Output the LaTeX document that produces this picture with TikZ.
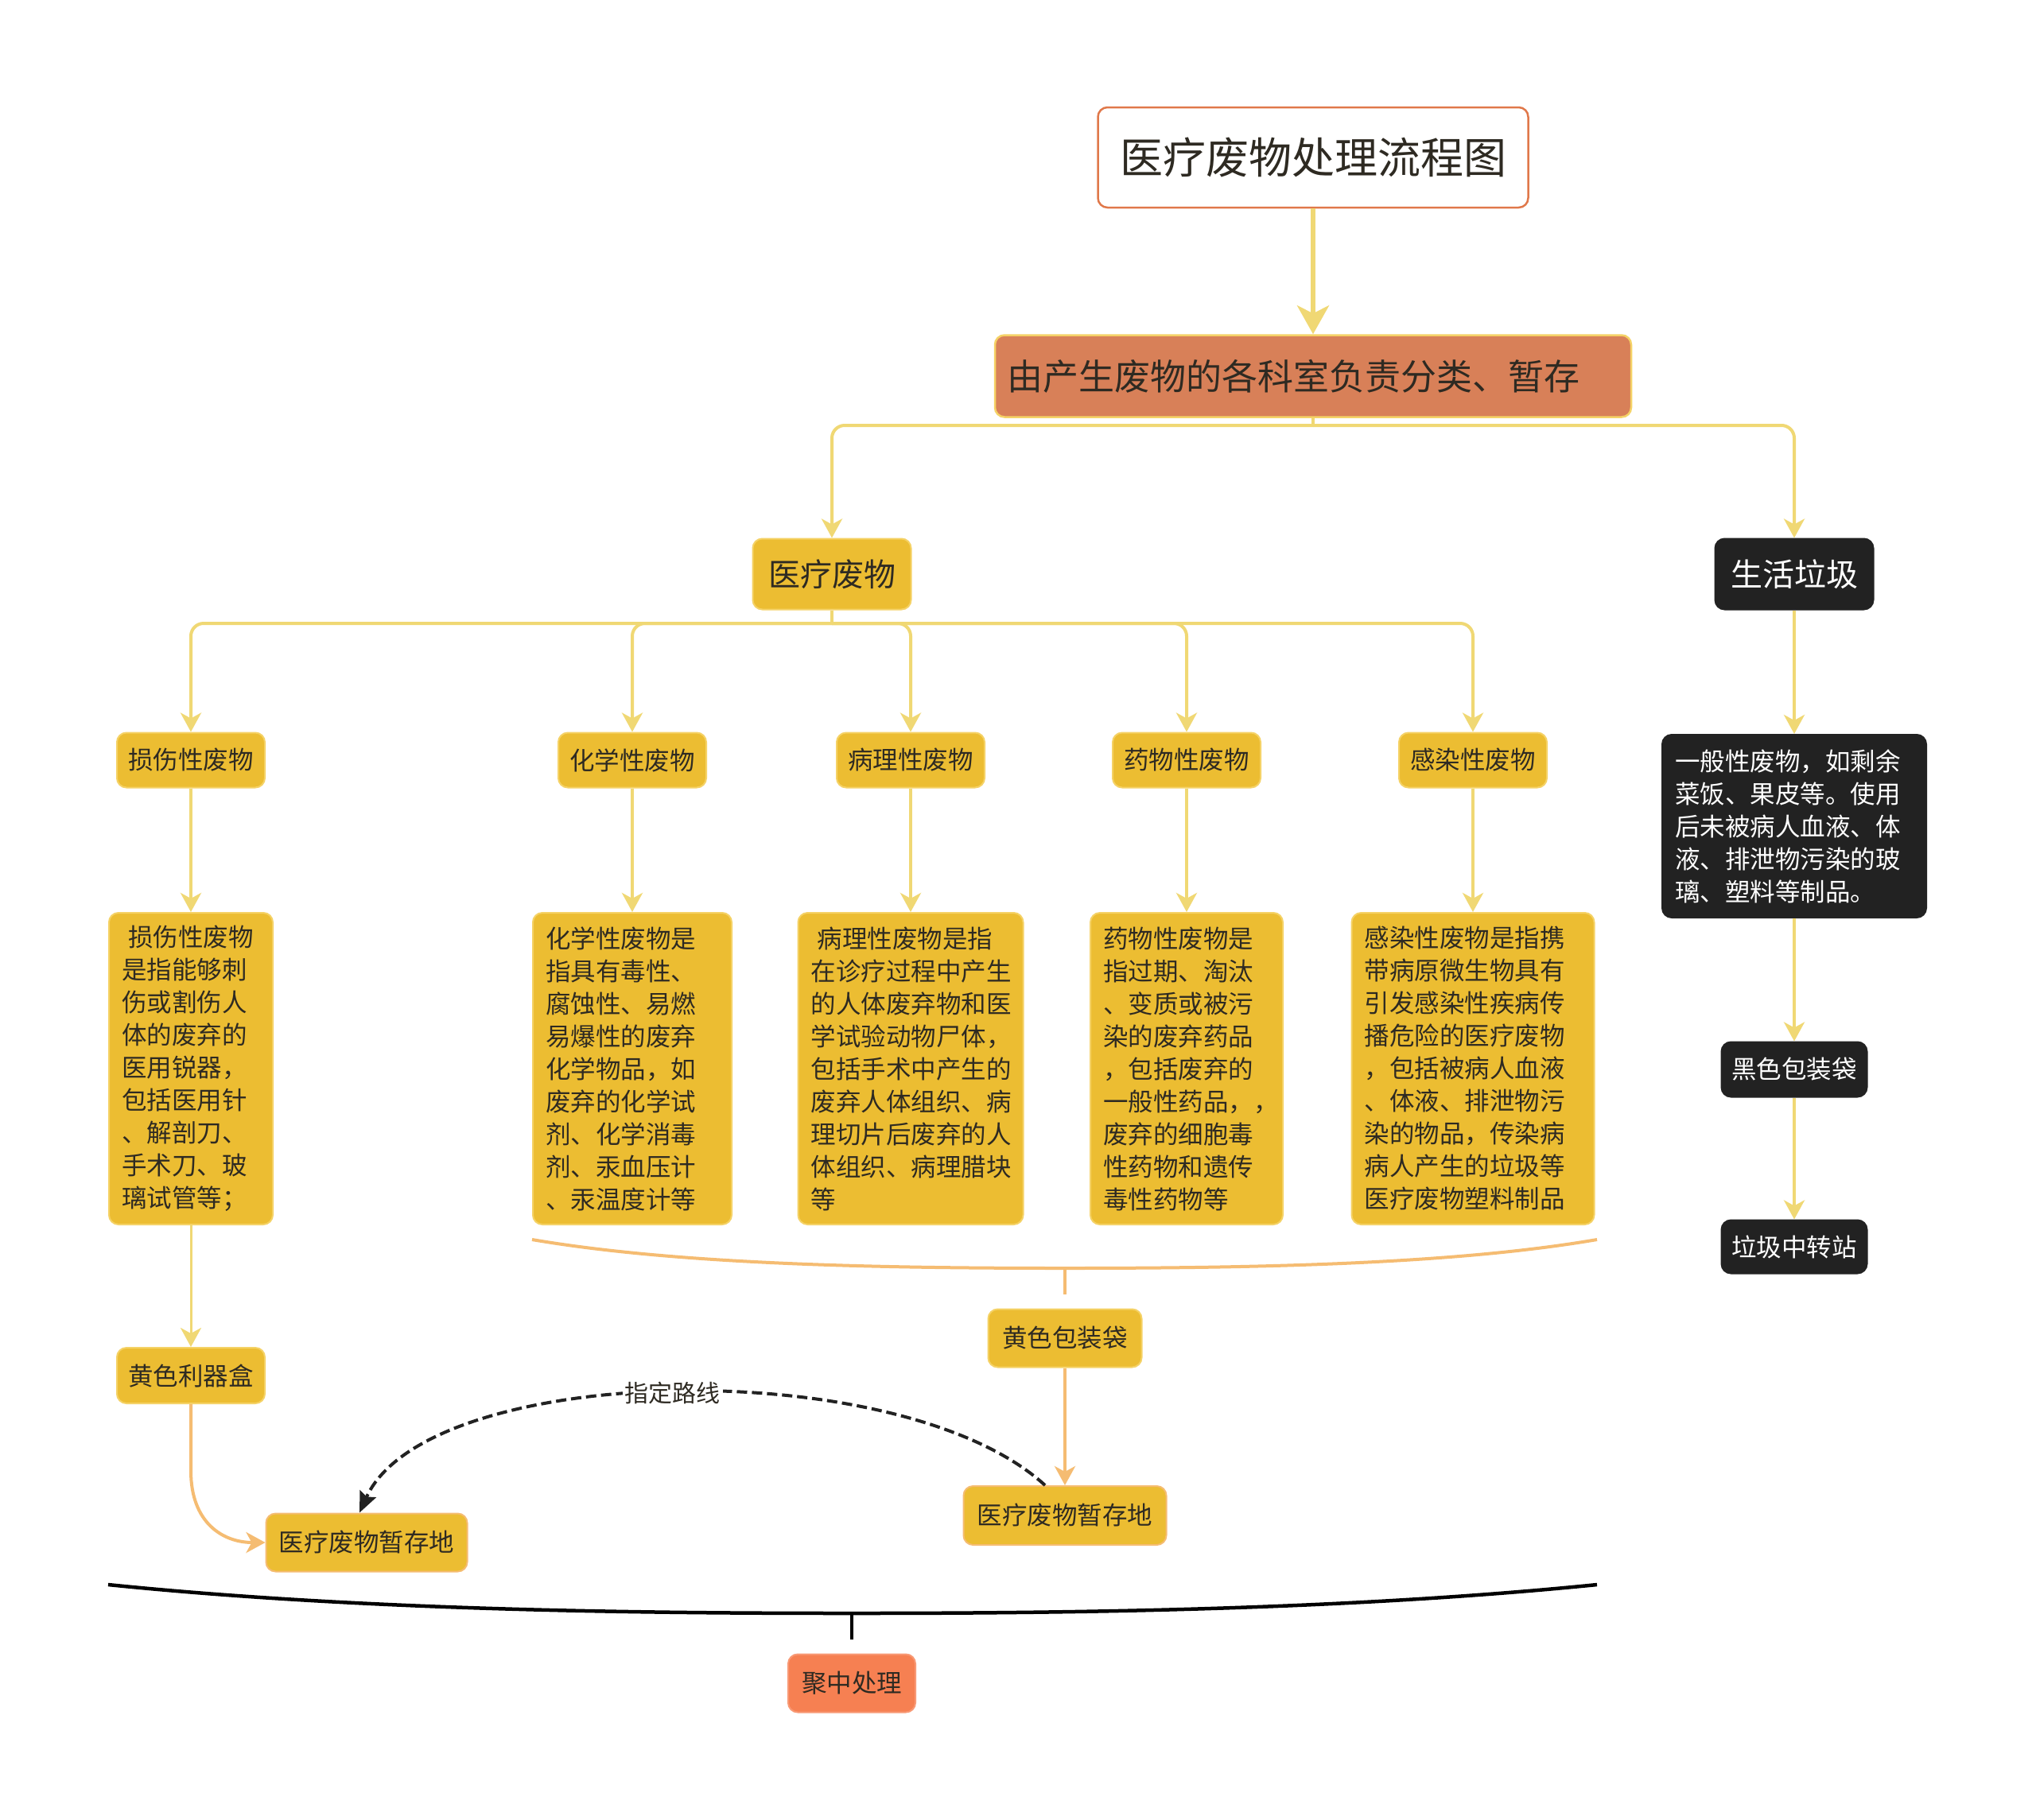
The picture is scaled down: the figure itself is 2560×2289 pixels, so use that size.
\documentclass[tikz,border=0pt]{standalone}
\usepackage{fontspec}
\setmainfont{Noto Sans CJK SC}
\usetikzlibrary{arrows.meta}
\definecolor{yboxc}{HTML}{ECBD32}
\definecolor{yborder}{HTML}{F5D266}
\definecolor{yline}{HTML}{F0D874}
\definecolor{oline}{HTML}{F5BC72}
\definecolor{oboxc}{HTML}{D88058}
\definecolor{tborder}{HTML}{E0784A}
\definecolor{coral}{HTML}{F68052}
\definecolor{darkc}{HTML}{222222}
\definecolor{txt}{HTML}{2E2A22}
\tikzset{
  ybox/.style={draw=yborder, line width=2pt, fill=yboxc, rounded corners=12pt, text=txt,
    font=\fontsize{31.5}{40}\selectfont, inner sep=0pt, align=center},
  desc/.style={ybox, align=left, inner xsep=16pt, inner ysep=0pt, font=\fontsize{31.5}{41}\selectfont,
    minimum height=392pt},
  dbox/.style={draw=darkc, line width=2pt, fill=darkc, rounded corners=12pt, text=white,
    font=\fontsize{31.5}{40}\selectfont, inner sep=0pt, align=center},
  yconn/.style={draw=yline, line width=4pt, -{Stealth[length=24pt,width=26pt,inset=7pt]}},
  yplain/.style={draw=yline, line width=4pt},
  oconn/.style={draw=oline, line width=4pt, -{Stealth[length=24pt,width=26pt,inset=7pt]}},
  oplain/.style={draw=oline, line width=4pt},
}
\begin{document}
\begin{tikzpicture}[x=1pt,y=-1pt]
\fill[white] (0,0) rectangle (2560,2289);
\useasboundingbox (0,0) rectangle (2560,2289);

% top
\node[draw=tborder, line width=2.5pt, fill=white, rounded corners=12pt, text=txt,
  minimum width=541pt, minimum height=126pt, inner sep=0pt,
  font=\fontsize{54}{60}\selectfont] (title) at (1651,198) {医疗废物处理流程图};
\node[draw=yborder, line width=2.5pt, fill=oboxc, rounded corners=12pt, text=txt,
  minimum height=103pt, inner xsep=15pt, inner ysep=0pt, text width=770pt, align=left,
  font=\fontsize{45}{50}\selectfont] (dept) at (1651,473) {由产生废物的各科室负责分类、暂存};
\node[ybox, minimum width=199pt, minimum height=89pt, font=\fontsize{40}{46}\selectfont] (med) at (1046,722) {医疗废物};
\node[dbox, minimum width=199pt, minimum height=89pt, font=\fontsize{40}{46}\selectfont] (life) at (2256,722) {生活垃圾};

% categories
\node[ybox, minimum width=186pt, minimum height=69pt] (c1) at (240,956) {损伤性废物};
\node[ybox, minimum width=186pt, minimum height=69pt] (c2) at (795,956) {化学性废物};
\node[ybox, minimum width=186pt, minimum height=69pt] (c3) at (1145,956) {病理性废物};
\node[ybox, minimum width=186pt, minimum height=69pt] (c4) at (1492,956) {药物性废物};
\node[ybox, minimum width=186pt, minimum height=69pt] (c5) at (1852,956) {感染性废物};

% descriptions
\node[desc, text width=174pt] (d1) at (240,1344) {\hspace*{8pt}损伤性废物\\是指能够刺\\伤或割伤人\\体的废弃的\\医用锐器，\\包括医用针\\、解剖刀、\\手术刀、玻\\璃试管等；};
\node[desc, text width=218pt] (d2) at (795,1344) {化学性废物是\\指具有毒性、\\腐蚀性、易燃\\易爆性的废弃\\化学物品，如\\废弃的化学试\\剂、化学消毒\\剂、汞血压计\\、汞温度计等};
\node[desc, text width=251pt] (d3) at (1145,1344) {\hspace*{8pt}病理性废物是指\\在诊疗过程中产生\\的人体废弃物和医\\学试验动物尸体，\\包括手术中产生的\\废弃人体组织、病\\理切片后废弃的人\\体组织、病理腊块\\等};
\node[desc, text width=210pt] (d4) at (1492,1344) {药物性废物是\\指过期、淘汰\\、变质或被污\\染的废弃药品\\，包括废弃的\\一般性药品，，\\废弃的细胞毒\\性药物和遗传\\毒性药物等};
\node[desc, text width=273pt] (d5) at (1852,1344) {感染性废物是指携\\带病原微生物具有\\引发感染性疾病传\\播危险的医疗废物\\，包括被病人血液\\、体液、排泄物污\\染的物品，传染病\\病人产生的垃圾等\\医疗废物塑料制品};

% right column
\node[dbox, align=left, inner xsep=16pt, text width=300pt, minimum height=230pt,
  font=\fontsize{31.5}{41}\selectfont] (ld) at (2256,1039) {一般性废物，如剩余\\菜饭、果皮等。使用\\后未被病人血液、体\\液、排泄物污染的玻\\璃、塑料等制品。};
\node[dbox, minimum width=183pt, minimum height=69pt] (bbag) at (2256,1345) {黑色包装袋};
\node[dbox, minimum width=183pt, minimum height=67pt] (trans) at (2256,1568) {垃圾中转站};

% lower part
\node[ybox, minimum width=186pt, minimum height=70pt] (sharp) at (240,1730) {黄色利器盒};
\node[ybox, minimum width=193pt, minimum height=73pt] (ybag) at (1339,1683) {黄色包装袋};
\node[ybox, draw=oline, minimum width=255pt, minimum height=74pt] (storeR) at (1339,1906) {医疗废物暂存地};
\node[ybox, draw=oline, minimum width=253pt, minimum height=73pt] (storeL) at (461,1940) {医疗废物暂存地};
\node[draw=coral!80!white, line width=2pt, fill=coral, rounded corners=12pt, text=txt, inner sep=0pt,
  minimum width=160pt, minimum height=73pt, font=\fontsize{31.5}{40}\selectfont] (final) at (1071,2117) {聚中处理};

% connectors top
\draw[draw=yline, line width=6pt, -{Stealth[length=36pt,width=40pt,inset=10pt]}] (title.south) -- (dept.north);
\coordinate (j1) at (1651,535);
\draw[yplain] (dept.south) -- (j1);
\draw[yconn, rounded corners=16pt] (j1) -| (med.north);
\draw[yconn, rounded corners=16pt] (j1) -| (life.north);

\coordinate (j2) at (1046,784);
\draw[yplain] (med.south) -- (j2);
\foreach \c in {c1,c2,c3,c4,c5} {
  \draw[yconn, rounded corners=16pt] (j2) -| (\c.north);
}
\draw[yconn] (c1.south) -- (d1.north);
\draw[yconn] (c2.south) -- (d2.north);
\draw[yconn] (c3.south) -- (d3.north);
\draw[yconn] (c4.south) -- (d4.north);
\draw[yconn] (c5.south) -- (d5.north);

\draw[yconn] (life.south) -- (ld.north);
\draw[yconn] (ld.south) -- (bbag.north);
\draw[yconn] (bbag.south) -- (trans.north);

\draw[yconn, line width=3pt] (d1.south) -- (sharp.north);
\draw[oconn] (sharp.south) -- (240,1850) .. controls (240,1915) and (280,1940) .. (storeL.west);

% orange brace
\coordinate (ob1) at (669,1559);
\coordinate (ob2) at (2008,1559);
\coordinate (obm) at (1339,1595);
\coordinate (obs) at (1339,1628);
\draw[oplain] (ob1) .. controls (850,1590) and (1100,1595) .. (obm) .. controls (1578,1595) and (1828,1590) .. (ob2);
\draw[oplain] (obm) -- (obs);
\draw[oconn] (ybag.south) -- (storeR.north);

% dashed route
\draw[draw=darkc, line width=4pt, dash pattern=on 13pt off 6pt, -{Stealth[length=26pt,width=22pt,inset=4pt]}]
  ([xshift=-25pt]storeR.north) .. controls (1130,1700) and (537,1714) .. ([xshift=-9pt]storeL.north)
  node[pos=0.5, fill=white, inner sep=3pt, text=txt, font=\fontsize{30}{34}\selectfont] (route) {指定路线};

% black brace
\coordinate (bb1) at (136,1993);
\coordinate (bb2) at (2008,1993);
\coordinate (bbm) at (1071,2029);
\coordinate (bbs) at (1071,2062);
\draw[black, line width=4.5pt] (bb1) .. controls (450,2025) and (800,2029) .. (bbm) .. controls (1342,2029) and (1690,2025) .. (bb2);
\draw[black, line width=4pt] (bbm) -- (bbs);
\end{tikzpicture}
\end{document}
